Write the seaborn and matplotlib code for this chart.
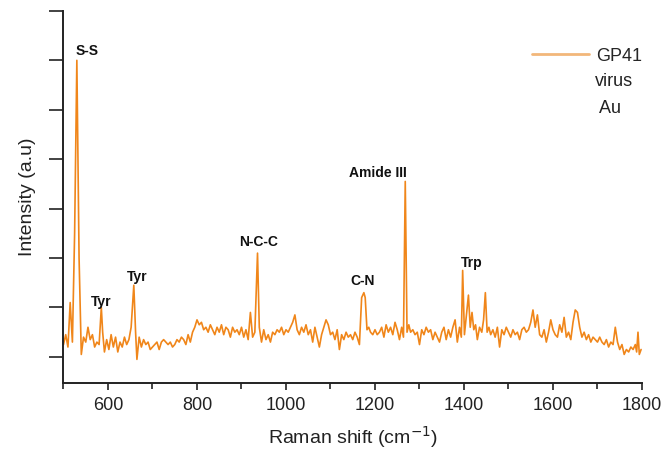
import matplotlib

matplotlib.use("Agg")
import matplotlib.pyplot as plt  # noqa: E402
import pandas as pd  # noqa: E402
import seaborn as sns  # noqa: E402

# Raman spectrum (shift in cm^-1, intensity in tick units)
shift = [
    500, 505, 510, 515, 520, 525, 530, 535, 540, 545, 550, 555, 560, 565, 570, 575, 580, 585, 588, 592,
    597, 602, 607, 612, 617, 622, 627, 632, 637, 642, 647, 652, 658, 662, 665, 670, 675, 680, 685, 690,
    695, 700, 705, 710, 715, 720, 725, 730, 735, 740, 745, 750, 755, 760, 765, 770, 775, 780, 785, 790,
    795, 800, 805, 810, 815, 820, 825, 830, 835, 840, 845, 850, 855, 860, 865, 870, 875, 880, 885, 890,
    895, 900, 905, 910, 915, 920, 925, 930, 936, 940, 945, 950, 955, 960, 965, 970, 975, 980, 985, 990,
    995, 1000, 1005, 1010, 1015, 1020, 1025, 1030, 1035, 1040, 1045, 1050, 1055, 1060, 1065, 1070, 1075,
    1080, 1085, 1090, 1095, 1100, 1105, 1110, 1115, 1120, 1125, 1130, 1135, 1140, 1145, 1150, 1155, 1160,
    1165, 1170, 1175, 1178, 1182, 1186, 1190, 1195, 1200, 1205, 1210, 1215, 1220, 1225, 1230, 1235, 1240,
    1245, 1250, 1255, 1260, 1264, 1268, 1272, 1276, 1280, 1285, 1290, 1295, 1300, 1305, 1310, 1315, 1320,
    1325, 1330, 1335, 1340, 1345, 1350, 1355, 1360, 1365, 1370, 1375, 1380, 1385, 1390, 1394, 1397, 1401,
    1405, 1410, 1414, 1418, 1422, 1426, 1430, 1435, 1440, 1444, 1448, 1452, 1456, 1460, 1465, 1470, 1475,
    1480, 1485, 1490, 1495, 1500, 1505, 1510, 1515, 1520, 1525, 1530, 1535, 1540, 1545, 1550, 1555, 1560,
    1565, 1570, 1575, 1580, 1585, 1590, 1595, 1600, 1605, 1610, 1615, 1620, 1625, 1630, 1635, 1640, 1645,
    1650, 1655, 1660, 1665, 1670, 1675, 1680, 1685, 1690, 1695, 1700, 1705, 1710, 1715, 1720, 1725, 1730,
    1735, 1740, 1745, 1750, 1755, 1760, 1765, 1770, 1775, 1780, 1785, 1788, 1791, 1794, 1798,
]
intensity = [
    0.25, 0.45, 0.2, 1.1, 0.3, 2.5, 6.0, 2.0, 0.05, 0.4, 0.3, 0.6, 0.35, 0.45, 0.2, 0.3, 0.25, 1.0, 0.5, 0.1,
    0.35, 0.15, 0.45, 0.2, 0.4, 0.1, 0.3, 0.2, 0.4, 0.25, 0.35, 0.6, 1.45, 0.5, -0.05, 0.4, 0.2, 0.35, 0.25, 0.3,
    0.15, 0.2, 0.25, 0.3, 0.15, 0.3, 0.35, 0.3, 0.25, 0.3, 0.2, 0.25, 0.35, 0.3, 0.4, 0.35, 0.25, 0.45, 0.3, 0.5,
    0.6, 0.75, 0.65, 0.7, 0.55, 0.6, 0.5, 0.65, 0.55, 0.45, 0.6, 0.5, 0.65, 0.45, 0.6, 0.55, 0.4, 0.6, 0.5, 0.55,
    0.45, 0.6, 0.4, 0.55, 0.35, 0.9, 0.4, 0.5, 2.1, 0.6, 0.3, 0.55, 0.35, 0.45, 0.3, 0.5, 0.45, 0.55, 0.5, 0.6,
    0.45, 0.55, 0.5, 0.6, 0.7, 0.85, 0.55, 0.45, 0.6, 0.5, 0.65, 0.45, 0.55, 0.3, 0.6, 0.4, 0.2,
    0.45, 0.6, 0.75, 0.65, 0.45, 0.5, 0.35, 0.55, 0.15, 0.45, 0.35, 0.5, 0.4, 0.45, 0.35, 0.5, 0.4,
    0.25, 1.2, 1.3, 1.2, 0.55, 0.6, 0.5, 0.45, 0.55, 0.45, 0.5, 0.6, 0.4, 0.65, 0.5, 0.6, 0.45,
    0.7, 0.55, 0.35, 0.6, 0.4, 3.55, 0.5, 0.65, 0.5, 0.55, 0.45, 0.5, 0.25, 0.55, 0.45, 0.6, 0.5,
    0.55, 0.35, 0.5, 0.4, 0.3, 0.5, 0.6, 0.35, 0.55, 0.4, 0.6, 0.75, 0.3, 0.6, 0.4, 1.75, 0.45,
    0.8, 1.25, 0.6, 0.9, 0.55, 0.65, 0.35, 0.6, 0.5, 0.75, 1.3, 0.5, 0.6, 0.45, 0.55, 0.4, 0.6,
    0.2, 0.55, 0.45, 0.6, 0.5, 0.4, 0.55, 0.45, 0.5, 0.35, 0.55, 0.6, 0.5, 0.55, 0.7, 0.95, 0.6,
    0.85, 0.45, 0.4, 0.55, 0.3, 0.5, 0.75, 0.55, 0.45, 0.4, 0.65, 0.5, 0.8, 0.4, 0.5, 0.35, 0.7,
    0.95, 0.9, 0.6, 0.4, 0.5, 0.35, 0.45, 0.3, 0.4, 0.35, 0.3, 0.4, 0.3, 0.25, 0.35, 0.2, 0.3,
    0.25, 0.6, 0.3, 0.15, 0.25, 0.05, 0.15, 0.1, 0.2, 0.15, 0.25, 0.1, 0.5, 0.05, 0.15,
]

# peak labels and where they sit
peak_names = ["S-S", "Tyr", "Tyr", "N-C-C", "C-N", "Amide III", "Trp"]
peak_x = [553, 584, 665, 938, 1171, 1207, 1418]
peak_y = [6.18, 1.11, 1.61, 2.33, 1.53, 3.72, 1.9]

sns.set_theme(style="ticks")
plt.rcParams["font.family"] = ["Liberation Sans", "DejaVu Sans"]

df = pd.DataFrame({"shift": shift, "intensity": intensity})

fig = plt.figure(figsize=(6.67, 4.55), dpi=100)
ax = fig.add_axes([0.0952, 0.158, 0.8673, 0.818])

orange = "#F0861A"
sns.lineplot(data=df, x="shift", y="intensity", ax=ax, color=orange, linewidth=1.2,
             label="GP41", legend=False)

for name, px, py in zip(peak_names, peak_x, peak_y):
    ax.text(px, py, name, ha="center", va="center", fontsize=10, fontweight="bold", color="#111111")

ax.set_xlim(500, 1800)
ax.set_ylim(-0.53, 7.0)
ax.set_xticks(range(600, 1801, 200))
ax.set_xticks(range(500, 1801, 100), minor=True)
ax.set_yticks(range(0, 8))
ax.set_yticklabels([])

ax.tick_params(axis="x", which="major", direction="out", length=5, width=1.2, labelsize=13,
               colors="#222222", pad=5)
ax.tick_params(axis="x", which="minor", direction="out", length=4, width=1.2, colors="#222222")
ax.tick_params(axis="y", direction="out", length=10, width=1.2, colors="#222222")

for side in ("top", "right"):
    ax.spines[side].set_visible(False)
for side in ("left", "bottom"):
    ax.spines[side].set_color("#222222")
    ax.spines[side].set_linewidth(1.4)

ax.set_xlabel("Raman shift (cm$^{-1}$)", fontsize=14, color="#222222", labelpad=7)
ax.set_ylabel("Intensity (a.u)", fontsize=14, color="#222222", labelpad=6)

leg = ax.legend(loc="upper left", bbox_to_anchor=(0.781, 0.945), frameon=False,
                fontsize=13, handlelength=3.2, handletextpad=0.4)
for line in leg.get_lines():
    line.set_color("#F2B77A")
    line.set_linewidth(2)
ax.text(0.918, 0.833, "virus\n Au", transform=ax.transAxes, fontsize=13, color="#222222",
        va="top", ha="left", linespacing=1.75)

fig.savefig("out.png", dpi=100)
